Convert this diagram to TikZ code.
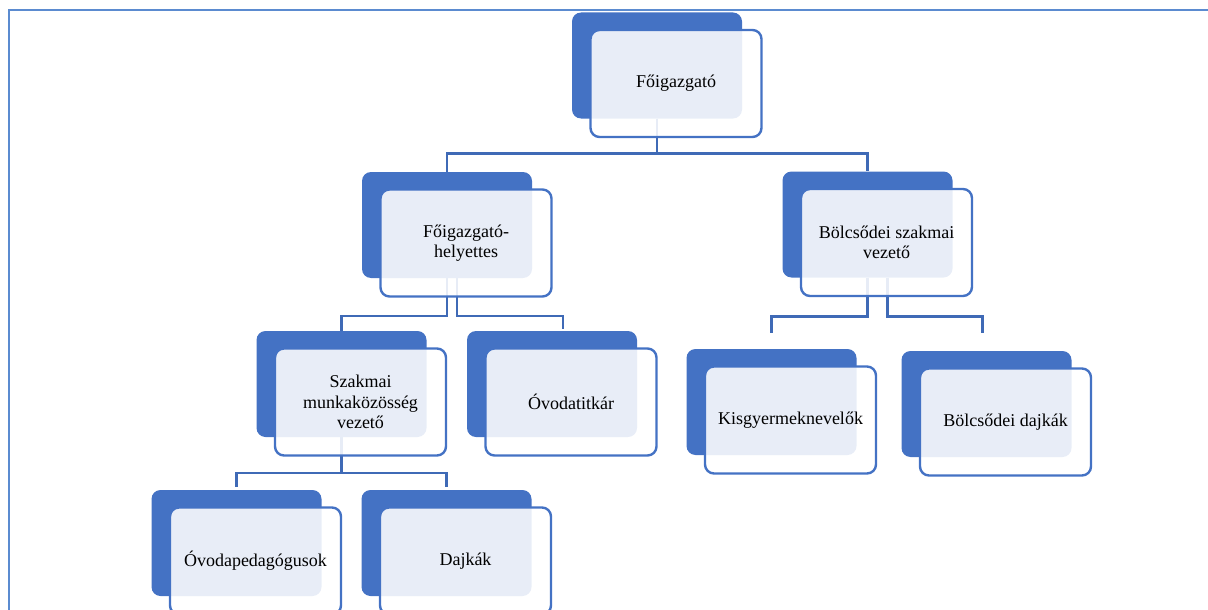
\documentclass[tikz,border=0pt]{standalone}
\usepackage{fontspec}
\setmainfont{Liberation Serif}
\usepackage{tikz}
\usetikzlibrary{positioning,calc,backgrounds}
\definecolor{orgblue}{RGB}{68,114,196}
\definecolor{orgline}{RGB}{63,106,182}
\definecolor{orgframe}{RGB}{91,139,208}
\tikzset{
  backbox/.style={fill=orgblue,rounded corners=9pt,minimum width=170pt,minimum height=106pt,inner sep=0pt},
  frontbox/.style={draw=orgblue,line width=2.4pt,fill=white,fill opacity=0.88,text opacity=1,rounded corners=9pt,
    minimum width=171pt,minimum height=107pt,inner sep=2pt,align=center,font=\fontsize{18}{20.5}\selectfont},
  link/.style={draw=orgline,line width=2.5pt},
  frame/.style={draw=orgframe,line width=2.8pt},
}

\begin{document}
\begin{tikzpicture}[x=1pt,y=-1pt]
  \useasboundingbox (0,0) rectangle (1208,610);
  % back tiles
  \node[backbox] (fo) at (657,65.5) {};
  \node[backbox] (fh) at (447,225) {};
  \node[backbox] (bv) at (867.5,224.5) {};
  \node[backbox] (szm) at (341.5,384) {};
  \node[backbox] (ot) at (552,384) {};
  \node[backbox] (op) at (236.5,543) {};
  \node[backbox] (dk) at (446.5,543) {};
  \node[backbox] (kg) at (771.5,402) {};
  \node[backbox] (bd) at (986.5,404) {};
  % front cards
  \node[frontbox] (fo-card) at ([shift={(19,18)}]fo.center) {Főigazgató};
  \node[frontbox] (fh-card) at ([shift={(19,18)}]fh.center) {Főigazgató-\\helyettes};
  \node[frontbox] (bv-card) at ([shift={(19,18)}]bv.center) {Bölcsődei szakmai\\vezető};
  \node[frontbox] (szm-card) at ([shift={(19,18)}]szm.center) {Szakmai\\munkaközösség\\vezető};
  \node[frontbox] (ot-card) at ([shift={(19,18)}]ot.center) {Óvodatitkár};
  \node[frontbox] (op-card) at ([shift={(19,18)}]op.center) {Óvodapedagógusok};
  \node[frontbox] (dk-card) at ([shift={(19,18)}]dk.center) {Dajkák};
  \node[frontbox] (kg-card) at ([shift={(19,18)}]kg.center) {Kisgyermeknevelők};
  \node[frontbox] (bd-card) at ([shift={(19,18)}]bd.center) {Bölcsődei dajkák};
  \begin{pgfonlayer}{background}
    \draw[frame] (9,610) -- (9,10) -- (1208,10);
    \draw[link] (fo.south) -- ++(0,35) -| (fh.north);
    \draw[link] (fo.south) -- ++(0,35) -| (bv.north);
    \draw[link] (fh.south) -- ++(0,38) -| (szm.north);
    \draw[link] ([xshift=10pt]fh.south) -- ++(0,38) -| ([xshift=11pt,yshift=2pt]ot.north);
    \draw[link] (bv.south) -- ++(0,39) -| ([yshift=16pt]kg.north);
    \draw[link] ([xshift=20pt]bv.south) -- ++(0,39) -| ([xshift=-4pt,yshift=18pt]bd.north);
    \draw[link] (szm.south) -- ++(0,36) -| ([yshift=3pt]op.north);
    \draw[link] (szm.south) -- ++(0,36) -| ([yshift=3pt]dk.north);
  \end{pgfonlayer}
\end{tikzpicture}
\end{document}
